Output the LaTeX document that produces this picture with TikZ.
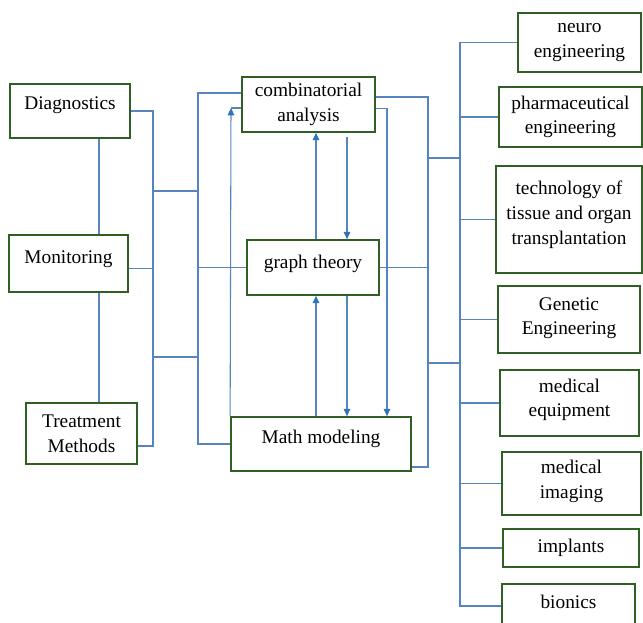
\documentclass[tikz,border=0pt]{standalone}
\usepackage{fontspec}
\setmainfont{Liberation Serif}
\usepackage{xcolor}
\usepackage{tikz}
\usetikzlibrary{arrows.meta}
\definecolor{boxgreen}{RGB}{47,95,35}
\definecolor{wireblue}{RGB}{88,132,190}
\definecolor{arrowblue}{RGB}{46,117,182}

\begin{document}
\begin{tikzpicture}[x=0.75pt, y=-0.75pt,
    every node/.style={font=\fontsize{14.5}{18.5}\selectfont},
    box/.style={draw=boxgreen, line width=1.3pt, inner sep=0pt, align=center},
    wire/.style={draw=wireblue, line width=0.8pt},
    arr/.style={wire, -{Triangle[length=5.5pt, width=5pt, color=arrowblue]}}]
   % Frame of the page
   \useasboundingbox (0,0) rectangle (643,622);
   \clip (0,0) rectangle (643,622);

    % Left column
    \node[box, minimum width=90pt, minimum height=40.5pt, text depth=12pt] (diag) at (70,111) {Diagnostics};
    \node[box, minimum width=89.25pt, minimum height=42.75pt, text depth=10pt] (moni) at (68.5,263.5) {Monitoring};
    \node[box, minimum width=83.25pt, minimum height=45.75pt] (treat) at (81.5,433.5) {Treatment\\Methods};

    % Middle column
    \node[box, minimum width=99.75pt, minimum height=41.25pt] (comb) at (308.5,104.5) {combinatorial\\analysis};
    \node[box, minimum width=99pt, minimum height=41.25pt, text depth=8.4pt] (graph) at (313,267.5) {graph theory};
    \node[box, minimum width=135pt, minimum height=40.5pt, text depth=10.7pt] (math) at (321,444) {Math modeling};

    % Right column
    \node[box, minimum width=92.25pt, minimum height=44.25pt] (neuro) at (579.5,42.5) {neuro\\engineering};
    \node[box, minimum width=107.25pt, minimum height=45pt] (pharm) at (570.5,117) {pharmaceutical\\engineering};
    \node[box, minimum width=109.5pt, minimum height=80.25pt, text depth=10pt] (tissue) at (569,219.5) {technology of\\tissue and organ\\transplantation};
    \node[box, minimum width=106.5pt, minimum height=50.25pt, text depth=5pt] (genetic) at (569,319.5) {Genetic\\Engineering};
    \node[box, minimum width=104.25pt, minimum height=49.5pt, text depth=8pt] (equip) at (569.5,403) {medical\\equipment};
    \node[box, minimum width=104.25pt, minimum height=47.25pt, text depth=6pt] (imaging) at (571.5,483.5) {medical\\imaging};
    \node[box, minimum width=102pt, minimum height=28.5pt] (implants) at (571,548) {implants};
    \node[box, minimum width=99.75pt, minimum height=33pt, text depth=6pt] (bionics) at (568.5,606) {bionics};

    % Bus points and lanes
    \coordinate (vl) at (99,0);
    \coordinate (lbT) at (153,111);
    \coordinate (lbB) at (153,446);
    \coordinate (j1) at (153,191);
    \coordinate (j2) at (153,357);
    \coordinate (mbT) at (198,93);
    \coordinate (aT) at (231,108);
    \coordinate (up) at (316,0);
    \coordinate (dn) at (347,0);
    \coordinate (dnT) at (347,137);
    \coordinate (dn2) at (387,0);
    \coordinate (rbT) at (428,97);
    \coordinate (rbB) at (428,467);
    \coordinate (k1) at (428,158);
    \coordinate (k2) at (428,363);
    \coordinate (fbT) at (460,42.5);
    \coordinate (fbB) at (460,606);

    % Left links
    \draw[wire] (diag.south -| vl) -- (moni.north -| vl);
    \draw[wire] (moni.south -| vl) -- (treat.north -| vl);
    \draw[wire] (diag.east) -- (lbT) -- (lbB) -- (treat.east |- lbB);
    \draw[wire] ([yshift=-4pt]moni.east) -- ([yshift=-4pt]moni.east -| lbT);
    \draw[wire] (j1) -- (j1 -| mbT);
    \draw[wire] (j2) -- (j2 -| mbT);
    \draw[wire] (comb.west |- mbT) -- (mbT) -- (mbT |- math.west) -- (math.west);
    \draw[wire] (graph.west) -- (graph.west -| mbT);

    % Arrows between the methods
    \draw[arr] (math.north west) -- (aT);
    \draw[wire] (aT) -- (aT -| comb.west);
    \draw[arr] (graph.north -| up) -- (comb.south -| up);
    \draw[arr] (dnT) -- (dnT |- graph.north);
    \draw[arr] (math.north -| up) -- (graph.south -| up);
    \draw[arr] (graph.south -| dn) -- (math.north -| dn);
    \draw[arr] ([yshift=-3pt]comb.east) -| (math.north -| dn2);

    % Right links
    \draw[wire] (comb.east |- rbT) -- (rbT) -- (rbB) -- (math.east |- rbB);
    \draw[wire] (graph.east) -- (graph.east -| rbT);
    \draw[wire] (k1) -- (k1 -| fbT);
    \draw[wire] (k2) -- (k2 -| fbT);
    \draw[wire] (neuro.west) -- (fbT) -- (fbB) -- (bionics.west);
    \foreach \n in {pharm, tissue, genetic, equip, imaging, implants}
        \draw[wire] (\n.west) -- (\n.west -| fbT);
\end{tikzpicture}
\end{document}
